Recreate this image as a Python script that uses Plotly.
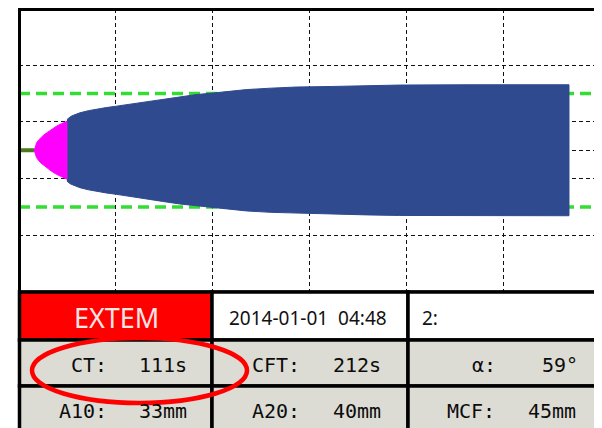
import plotly.graph_objects as go

# ---------------- data ----------------
BASELINE_T = [0, 95]                      # flat trace before clotting starts (s)
MAGENTA_T = [95, 102, 109, 122, 136, 152, 171, 200, 233, 265, 297]  # CT .. CT+CFT (s)
MAGENTA_A = [0, 3.0, 5.2, 7.3, 9.0, 10.6, 12.2, 14.7, 17.0, 18.8, 20.4]  # amplitude (mm)
BLUE_T = [297, 305, 320, 340, 377, 430, 481, 540, 604, 700, 790, 890, 996, 1100, 1206,
          1409, 1560, 1718, 1942, 2153, 2357, 2790, 3408]
BLUE_A = [21.6, 22.6, 23.8, 24.8, 26.4, 27.9, 29.0, 30.1, 31.1, 32.7, 34.2, 36.1, 37.9,
          39.3, 40.4, 42.8, 43.8, 44.6, 45.0, 45.6, 46.0, 46.2, 46.2]
REF_LINES_MM = [20, -20]
X_GRID = [600, 1200, 1800, 2400, 3000]
Y_GRID = [-30, -10, 0, 10, 30]

HEADER = ["EXTEM", "2014-01-01\u00a0\u00a004:48", "2:"]
ROW_LABELS = [["CT:", "CFT:", "α:"], ["A10:", "A20:", "MCF:"]]
ROW_VALUES = [["111s", "212s", "59°"], ["33mm", "40mm", "45mm"]]

# ---------------- layout helpers ----------------
# the page body has an 8px margin, so the figure starts at (8, 8) in the window
OFF = 8
W, H = 602 - OFF, 428 - OFF


def px(x):
    return (x - OFF) / W


def py(y):
    return 1 - (y - OFF) / H


BLUE = "#2f4a8f"
MAGENTA = "#ff00ff"
GREEN = "#33dd33"
GRAY = "#dcdcd5"

fig = go.Figure()

t_max = 3594

# green reference lines
for r in REF_LINES_MM:
    fig.add_trace(go.Scatter(x=[0, t_max], y=[r, r], mode="lines",
                             line=dict(color=GREEN, width=3.5, dash="11px,6px"),
                             hoverinfo="skip", showlegend=False))

# baseline
fig.add_trace(go.Scatter(x=BASELINE_T, y=[0, 0], mode="lines",
                         line=dict(color="#4b7b1e", width=4),
                         hoverinfo="skip", showlegend=False))


def band(ts, amps, color):
    xs = list(ts) + list(reversed(ts))
    ys = [a / 2 for a in amps] + [-a / 2 for a in reversed(amps)]
    return go.Scatter(x=xs, y=ys, mode="lines", fill="toself", fillcolor=color,
                      line=dict(color=color, width=1),
                      hoverinfo="skip", showlegend=False)


fig.add_trace(band(BLUE_T, BLUE_A, BLUE))
fig.add_trace(band(MAGENTA_T, MAGENTA_A, MAGENTA))

grid = dict(showgrid=True, gridcolor="#111111", gridwidth=1.3, griddash="4px,3px",
            showticklabels=False, ticks="", zeroline=False, showline=False,
            fixedrange=True)

fig.update_layout(
    width=W, height=H,
    margin=dict(l=0, r=0, t=0, b=0),
    paper_bgcolor="white", plot_bgcolor="white",
    xaxis=dict(domain=[px(19), px(599)], range=[0, t_max], tickvals=X_GRID, **grid),
    yaxis=dict(domain=[py(292), py(8.5)], range=[-50, 50], tickvals=Y_GRID, **grid),
    showlegend=False,
)

shapes = []
# plot frame
shapes.append(dict(type="rect", xref="paper", yref="paper",
                   x0=px(19.5), x1=px(599), y0=py(292), y1=py(9.5),
                   line=dict(color="black", width=3), layer="above"))

# table cells
col_edges = [19.5, 212, 408, 600.5]
row_edges = [292, 340, 386, 432]
fills = [["#ff0000", "white", "white"], [GRAY, GRAY, GRAY], [GRAY, GRAY, GRAY]]
for r in range(3):
    for c in range(3):
        shapes.append(dict(type="rect", xref="paper", yref="paper",
                           x0=px(col_edges[c]), x1=px(col_edges[c + 1]),
                           y0=py(row_edges[r + 1]), y1=py(row_edges[r]),
                           fillcolor=fills[r][c], line=dict(color="black", width=3.5),
                           layer="above"))

# red ellipse
shapes.append(dict(type="circle", xref="paper", yref="paper",
                   x0=px(32), x1=px(247), y0=py(403), y1=py(338),
                   line=dict(color="#ff0000", width=4.5), layer="above"))

annotations = []
annotations.append(dict(text=HEADER[0], x=px(116), y=py(317), xref="paper", yref="paper",
                        xanchor="center", yanchor="middle", showarrow=False,
                        font=dict(family="Noto Sans", size=27, color="#fbe4e4")))
annotations.append(dict(text=HEADER[1], x=px(227), y=py(318), xref="paper", yref="paper",
                        xanchor="left", yanchor="middle", showarrow=False,
                        font=dict(family="Noto Sans", size=19, color="#111111")))
annotations.append(dict(text=HEADER[2], x=px(420), y=py(318), xref="paper", yref="paper",
                        xanchor="left", yanchor="middle", showarrow=False,
                        font=dict(family="Noto Sans", size=19, color="#111111")))

label_x = [[69, 250, 470], [57, 250, 445]]
value_x = [[189, 383, 580], [189, 383, 578]]
row_y = [365, 411]
mono = dict(family="DejaVu Sans Mono", size=20, color="#0c0c0c")
for r in range(2):
    for c in range(3):
        annotations.append(dict(text=ROW_LABELS[r][c], x=px(label_x[r][c]), y=py(row_y[r]),
                                xref="paper", yref="paper", xanchor="left",
                                yanchor="middle", showarrow=False, font=mono))
        annotations.append(dict(text=ROW_VALUES[r][c], x=px(value_x[r][c]), y=py(row_y[r]),
                                xref="paper", yref="paper", xanchor="right",
                                yanchor="middle", showarrow=False, font=mono))

fig.update_layout(shapes=shapes, annotations=annotations)

fig.write_html("out.html")
